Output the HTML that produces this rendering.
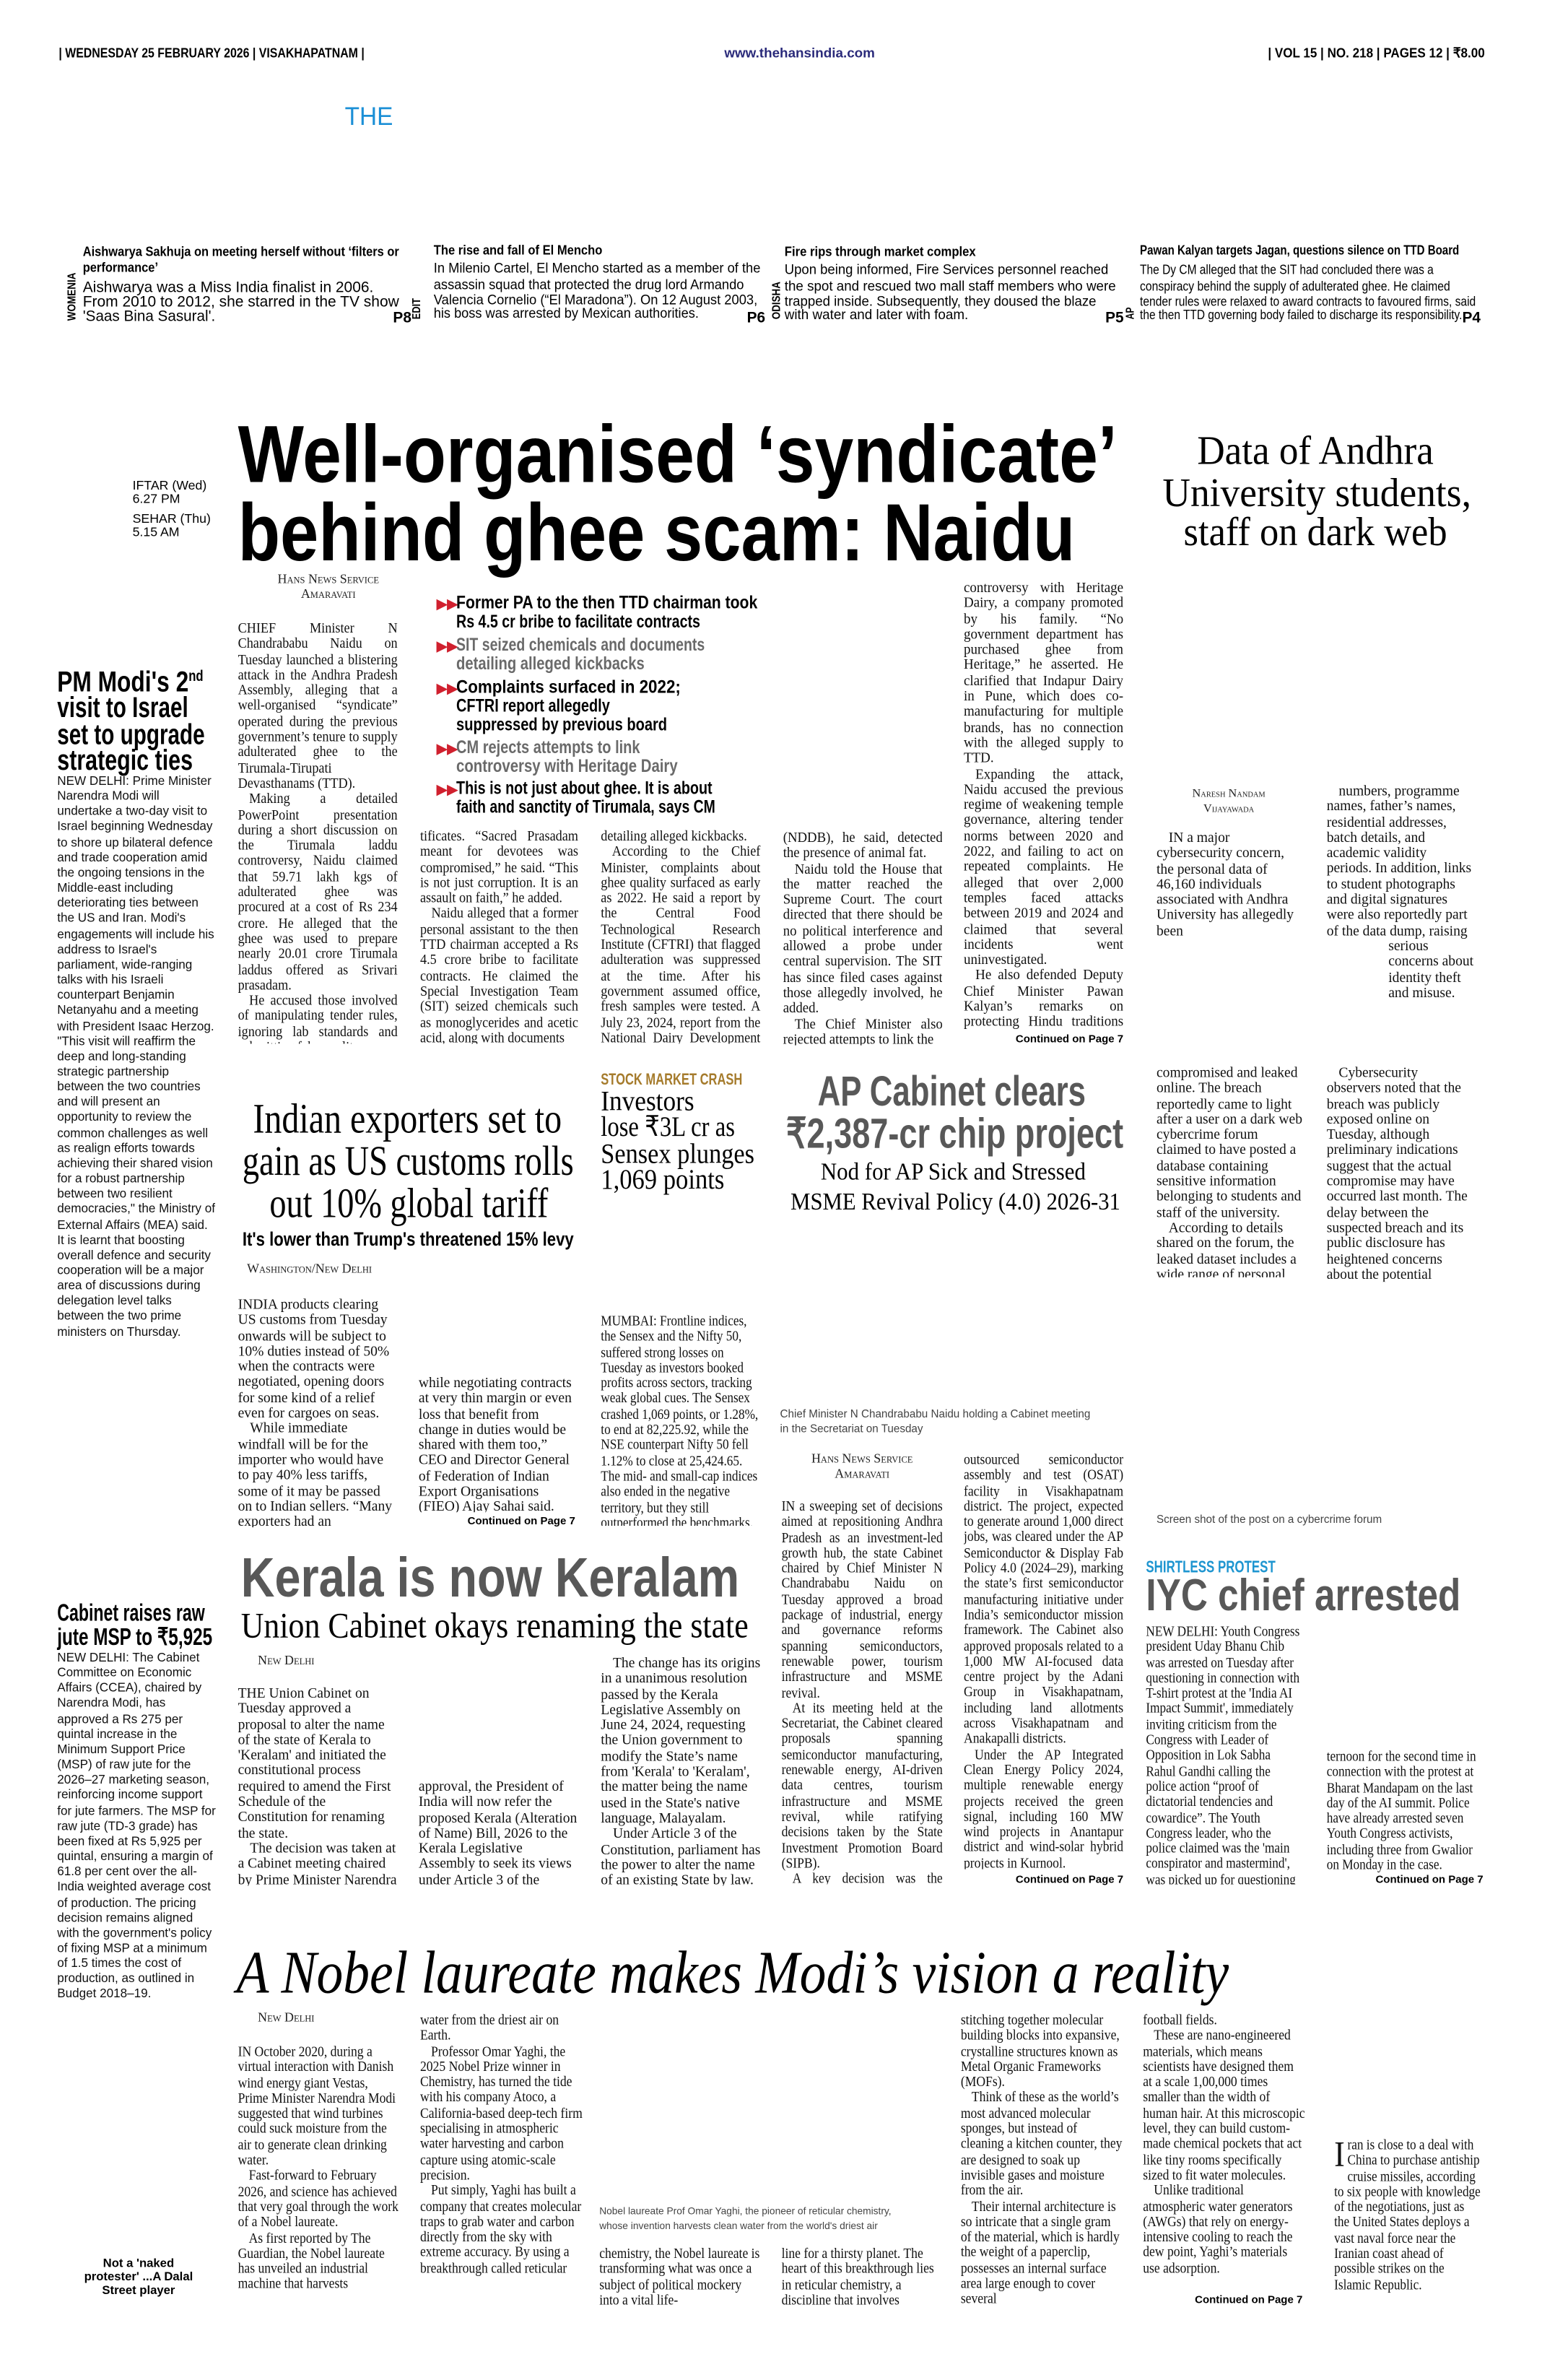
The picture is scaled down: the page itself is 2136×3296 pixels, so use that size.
<!DOCTYPE html>
<html><head><meta charset="utf-8">
<style>
html,body{margin:0;padding:0;background:#fff;width:2136px;height:3295px;overflow:hidden}
#w{position:absolute;left:0;top:0;width:1024px;height:1580px;transform:scale(2.0859375);transform-origin:0 0}
.c{position:absolute;font-family:"Liberation Serif",serif;font-size:9.4px;line-height:10.3px;color:#111;text-align:justify;overflow:hidden;transform-origin:0 0;transform:scaleX(var(--k,0.93));width:calc(var(--w) / var(--k,0.93))}
.c p{margin:0;text-indent:8px}
.c p:first-child{text-indent:0}
.r{text-align:left}
.s{font-family:"Liberation Sans",sans-serif;font-size:8.2px;line-height:10.15px;text-align:left;--k:1}
.by{position:absolute;font-family:"Liberation Serif",serif;font-variant:small-caps;font-size:8.6px;line-height:9.5px;text-align:center;color:#222}
.cont{font-family:"Liberation Sans",sans-serif;font-weight:bold;font-size:7.5px}
.cap{position:absolute;font-family:"Liberation Sans",sans-serif;font-size:7.3px;line-height:10px;color:#444}
svg{position:absolute;left:0;top:0}
</style></head><body><div id="w">

<svg width="1024" height="1580" viewBox="0 0 1024 1580" font-family="Liberation Sans, sans-serif">
<text x="39" y="38" font-size="9" font-weight="bold" textLength="203" lengthAdjust="spacingAndGlyphs">| WEDNESDAY 25 FEBRUARY 2026 | VISAKHAPATNAM |</text>
<text x="481" y="38" font-size="9" font-weight="bold" fill="#2a2a7a" textLength="100" lengthAdjust="spacingAndGlyphs">www.thehansindia.com</text>
<text x="842" y="38" font-size="9" font-weight="bold" textLength="144" lengthAdjust="spacingAndGlyphs">| VOL 15 | NO. 218 | PAGES 12 | ₹8.00</text>
<text x="229" y="83" font-size="17" fill="#1b8fd6" textLength="32" lengthAdjust="spacingAndGlyphs">THE</text>

<text x="55" y="170" font-size="9" font-weight="bold" textLength="210" lengthAdjust="spacingAndGlyphs">Aishwarya Sakhuja on meeting herself without ‘filters or</text>
<text x="55" y="180.5" font-size="9" font-weight="bold" textLength="50" lengthAdjust="spacingAndGlyphs">performance’</text>
<text x="55" y="194" font-size="10" textLength="193" lengthAdjust="spacingAndGlyphs">Aishwarya was a Miss India finalist in 2006.</text>
<text x="55" y="203.5" font-size="10" textLength="210" lengthAdjust="spacingAndGlyphs">From 2010 to 2012, she starred in the TV show</text>
<text x="55" y="213" font-size="10" textLength="88" lengthAdjust="spacingAndGlyphs">'Saas Bina Sasural'.</text>
<text x="261" y="214" font-size="10" font-weight="bold">P8</text>
<text transform="translate(50,213) rotate(-90)" font-size="7.5" font-weight="bold" textLength="32" lengthAdjust="spacingAndGlyphs">WOMENIA</text>

<text x="288" y="169" font-size="9" font-weight="bold" textLength="112" lengthAdjust="spacingAndGlyphs">The rise and fall of El Mencho</text>
<text x="288" y="181" font-size="9.5" textLength="217" lengthAdjust="spacingAndGlyphs">In Milenio Cartel, El Mencho started as a member of the</text>
<text x="288" y="192" font-size="9.5" textLength="206" lengthAdjust="spacingAndGlyphs">assassin squad that protected the drug lord Armando</text>
<text x="288" y="202" font-size="9.5" textLength="215" lengthAdjust="spacingAndGlyphs">Valencia Cornelio (“El Maradona”). On 12 August 2003,</text>
<text x="288" y="211" font-size="9.5" textLength="176" lengthAdjust="spacingAndGlyphs">his boss was arrested by Mexican authorities.</text>
<text x="496" y="214" font-size="10" font-weight="bold">P6</text>
<text transform="translate(279,212) rotate(-90)" font-size="7.5" font-weight="bold" textLength="14" lengthAdjust="spacingAndGlyphs">EDIT</text>

<text x="521" y="170" font-size="9" font-weight="bold" textLength="127" lengthAdjust="spacingAndGlyphs">Fire rips through market complex</text>
<text x="521" y="182" font-size="9.5" textLength="215" lengthAdjust="spacingAndGlyphs">Upon being informed, Fire Services personnel reached</text>
<text x="521" y="193" font-size="9.5" textLength="220" lengthAdjust="spacingAndGlyphs">the spot and rescued two mall staff members who were</text>
<text x="521" y="203" font-size="9.5" textLength="207" lengthAdjust="spacingAndGlyphs">trapped inside. Subsequently, they doused the blaze</text>
<text x="521" y="212" font-size="9.5" textLength="122" lengthAdjust="spacingAndGlyphs">with water and later with foam.</text>
<text x="734" y="214" font-size="10" font-weight="bold">P5</text>
<text transform="translate(518,212) rotate(-90)" font-size="7.5" font-weight="bold" textLength="25" lengthAdjust="spacingAndGlyphs">ODISHA</text>

<text x="757" y="169" font-size="9" font-weight="bold" textLength="212" lengthAdjust="spacingAndGlyphs">Pawan Kalyan targets Jagan, questions silence on TTD Board</text>
<text x="757" y="182" font-size="9" textLength="195" lengthAdjust="spacingAndGlyphs">The Dy CM alleged that the SIT had concluded there was a</text>
<text x="757" y="193" font-size="9" textLength="206" lengthAdjust="spacingAndGlyphs">conspiracy behind the supply of adulterated ghee. He claimed</text>
<text x="757" y="203" font-size="9" textLength="223" lengthAdjust="spacingAndGlyphs">tender rules were relaxed to award contracts to favoured firms, said</text>
<text x="757" y="212" font-size="9" textLength="214" lengthAdjust="spacingAndGlyphs">the then TTD governing body failed to discharge its responsibility.</text>
<text x="971" y="214" font-size="10" font-weight="bold">P4</text>
<text transform="translate(753,212) rotate(-90)" font-size="7.5" font-weight="bold" textLength="8" lengthAdjust="spacingAndGlyphs">AP</text>

<text x="88" y="325" font-size="8.5">IFTAR (Wed)</text>
<text x="88" y="334" font-size="8.5">6.27 PM</text>
<text x="88" y="347" font-size="8.5">SEHAR (Thu)</text>
<text x="88" y="356" font-size="8.5">5.15 AM</text>

<text x="158" y="320" font-size="54" font-weight="bold" textLength="584" lengthAdjust="spacingAndGlyphs">Well-organised ‘syndicate’</text>
<text x="158" y="372" font-size="54" font-weight="bold" textLength="556" lengthAdjust="spacingAndGlyphs">behind ghee scam: Naidu</text>

<g font-family="Liberation Serif, serif" font-size="27">
<text x="795" y="308" textLength="157" lengthAdjust="spacingAndGlyphs">Data of Andhra</text>
<text x="772" y="336" textLength="205" lengthAdjust="spacingAndGlyphs">University students,</text>
<text x="786" y="362" textLength="175" lengthAdjust="spacingAndGlyphs">staff on dark web</text>
</g>

<g font-size="19" font-weight="bold">
<text x="38" y="459" textLength="97" lengthAdjust="spacingAndGlyphs">PM Modi's 2<tspan font-size="10" dy="-7">nd</tspan></text>
<text x="38" y="476" textLength="87" lengthAdjust="spacingAndGlyphs">visit to Israel</text>
<text x="38" y="494" textLength="98" lengthAdjust="spacingAndGlyphs">set to upgrade</text>
<text x="38" y="511" textLength="90" lengthAdjust="spacingAndGlyphs">strategic ties</text>
</g>

<g font-size="12" font-weight="bold">
<text x="290" y="404" fill="#d0202e" font-size="9">▶▶</text>
<text x="303" y="404" textLength="200" lengthAdjust="spacingAndGlyphs">Former PA to the then TTD chairman took</text>
<text x="303" y="416.5" textLength="162" lengthAdjust="spacingAndGlyphs">Rs 4.5 cr bribe to facilitate contracts</text>
<text x="290" y="432" fill="#d0202e" font-size="9">▶▶</text>
<text x="303" y="432" fill="#6a6a6a" textLength="165" lengthAdjust="spacingAndGlyphs">SIT seized chemicals and documents</text>
<text x="303" y="444.5" fill="#6a6a6a" textLength="125" lengthAdjust="spacingAndGlyphs">detailing alleged kickbacks</text>
<text x="290" y="460" fill="#d0202e" font-size="9">▶▶</text>
<text x="303" y="460" textLength="149" lengthAdjust="spacingAndGlyphs">Complaints surfaced in 2022;</text>
<text x="303" y="472.5" textLength="102" lengthAdjust="spacingAndGlyphs">CFTRI report allegedly</text>
<text x="303" y="485" textLength="140" lengthAdjust="spacingAndGlyphs">suppressed by previous board</text>
<text x="290" y="500" fill="#d0202e" font-size="9">▶▶</text>
<text x="303" y="500" fill="#6a6a6a" textLength="122" lengthAdjust="spacingAndGlyphs">CM rejects attempts to link</text>
<text x="303" y="512.5" fill="#6a6a6a" textLength="147" lengthAdjust="spacingAndGlyphs">controversy with Heritage Dairy</text>
<text x="290" y="527" fill="#d0202e" font-size="9">▶▶</text>
<text x="303" y="527" textLength="170" lengthAdjust="spacingAndGlyphs">This is not just about ghee. It is about</text>
<text x="303" y="539.5" textLength="172" lengthAdjust="spacingAndGlyphs">faith and sanctity of Tirumala, says CM</text>
</g>

<g font-family="Liberation Serif, serif" font-size="28">
<text x="168" y="752" textLength="205" lengthAdjust="spacingAndGlyphs">Indian exporters set to</text>
<text x="161" y="780" textLength="220" lengthAdjust="spacingAndGlyphs">gain as US customs rolls</text>
<text x="179" y="808" textLength="185" lengthAdjust="spacingAndGlyphs">out 10% global tariff</text>
</g>
<text x="161" y="827" font-size="13" font-weight="bold" textLength="220" lengthAdjust="spacingAndGlyphs">It's lower than Trump's threatened 15% levy</text>

<text x="399" y="720" font-size="10.5" font-weight="bold" fill="#a57b2c" textLength="94" lengthAdjust="spacingAndGlyphs">STOCK MARKET CRASH</text>
<g font-family="Liberation Serif, serif" font-size="19">
<text x="399" y="737" textLength="62" lengthAdjust="spacingAndGlyphs">Investors</text>
<text x="399" y="754" textLength="89" lengthAdjust="spacingAndGlyphs">lose ₹3L cr as</text>
<text x="399" y="772" textLength="102" lengthAdjust="spacingAndGlyphs">Sensex plunges</text>
<text x="399" y="789" textLength="82" lengthAdjust="spacingAndGlyphs">1,069 points</text>
</g>

<text x="543" y="734" font-size="28" font-weight="bold" fill="#585858" textLength="178" lengthAdjust="spacingAndGlyphs">AP Cabinet clears</text>
<text x="522" y="762" font-size="28" font-weight="bold" fill="#585858" textLength="224" lengthAdjust="spacingAndGlyphs">₹2,387-cr chip project</text>
<text x="545" y="783" font-family="Liberation Serif, serif" font-size="16" textLength="176" lengthAdjust="spacingAndGlyphs">Nod for AP Sick and Stressed</text>
<text x="525" y="803" font-family="Liberation Serif, serif" font-size="16" textLength="219" lengthAdjust="spacingAndGlyphs">MSME Revival Policy (4.0) 2026-31</text>

<text x="761" y="1044" font-size="11" font-weight="bold" fill="#1e95d0" textLength="86" lengthAdjust="spacingAndGlyphs">SHIRTLESS PROTEST</text>
<text x="761" y="1069" font-size="30" font-weight="bold" fill="#585858" textLength="209" lengthAdjust="spacingAndGlyphs">IYC chief arrested</text>

<text x="160" y="1060" font-size="37" font-weight="bold" fill="#585858" textLength="331" lengthAdjust="spacingAndGlyphs">Kerala is now Keralam</text>
<text x="160" y="1087" font-family="Liberation Serif, serif" font-size="24" textLength="337" lengthAdjust="spacingAndGlyphs">Union Cabinet okays renaming the state</text>

<text x="38" y="1076" font-size="16" font-weight="bold" textLength="98" lengthAdjust="spacingAndGlyphs">Cabinet raises raw</text>
<text x="38" y="1092" font-size="16" font-weight="bold" textLength="103" lengthAdjust="spacingAndGlyphs">jute MSP to ₹5,925</text>

<text x="157" y="1323" font-family="Liberation Serif, serif" font-style="italic" font-size="40" textLength="659" lengthAdjust="spacingAndGlyphs">A Nobel laureate makes Modi’s vision a reality</text>

<g font-size="7.2" font-weight="bold" text-anchor="end">
<text x="746" y="692">Continued on Page 7</text>
<text x="382" y="1012">Continued on Page 7</text>
<text x="746" y="1250">Continued on Page 7</text>
<text x="985" y="1250">Continued on Page 7</text>
<text x="865" y="1529">Continued on Page 7</text>
</g>

<g font-size="8" font-weight="bold" text-anchor="middle">
<text x="92" y="1505">Not a 'naked</text>
<text x="92" y="1514">protester' ...A Dalal</text>
<text x="92" y="1523">Street player</text>
</g>
</svg>

<div class="c s" style="left:38px;top:514px;--w:106px;height:384px">NEW DELHI: Prime Minister Narendra Modi will undertake a two-day visit to Israel beginning Wednesday to shore up bilateral defence and trade cooperation amid the ongoing tensions in the Middle-east including deteriorating ties between the US and Iran. Modi's engagements will include his address to Israel's parliament, wide-ranging talks with his Israeli counterpart Benjamin Netanyahu and a meeting with President Isaac Herzog. "This visit will reaffirm the deep and long-standing strategic partnership between the two countries and will present an opportunity to review the common challenges as well as realign efforts towards achieving their shared vision for a robust partnership between two resilient democracies," the Ministry of External Affairs (MEA) said. It is learnt that boosting overall defence and security cooperation will be a major area of discussions during delegation level talks between the two prime ministers on Thursday.</div>

<div class="by" style="left:158px;top:380px;width:120px">Hans News Service<br>Amaravati</div>
<div class="c" style="left:158px;top:413px;--w:106px;height:280px"><p>CHIEF Minister N Chandrababu Naidu on Tuesday launched a blistering attack in the Andhra Pradesh Assembly, alleging that a well-organised “syndicate” operated during the previous government’s tenure to supply adulterated ghee to the Tirumala-Tirupati Devasthanams (TTD).</p><p>Making a detailed PowerPoint presentation during a short discussion on the Tirumala laddu controversy, Naidu claimed that 59.71 lakh kgs of adulterated ghee was procured at a cost of Rs 234 crore. He alleged that the ghee was used to prepare nearly 20.01 crore Tirumala laddus offered as Srivari prasadam.</p><p>He accused those involved of manipulating tender rules, ignoring lab standards and submitting fake quality cer-</p></div>
<div class="c" style="left:279px;top:551px;--w:105px;height:142px"><p>tificates. “Sacred Prasadam meant for devotees was compromised,” he said. “This is not just corruption. It is an assault on faith,” he added.</p><p>Naidu alleged that a former personal assistant to the then TTD chairman accepted a Rs 4.5 crore bribe to facilitate contracts. He claimed the Special Investigation Team (SIT) seized chemicals such as monoglycerides and acetic acid, along with documents</p></div>
<div class="c" style="left:399px;top:551px;--w:106px;height:142px"><p>detailing alleged kickbacks.</p><p>According to the Chief Minister, complaints about ghee quality surfaced as early as 2022. He said a report by the Central Food Technological Research Institute (CFTRI) that flagged adulteration was suppressed at the time. After his government assumed office, fresh samples were tested. A July 23, 2024, report from the National Dairy Development Board</p></div>
<div class="c" style="left:520px;top:552px;--w:106px;height:142px;--k:.96"><p>(NDDB), he said, detected the presence of animal fat.</p><p>Naidu told the House that the matter reached the Supreme Court. The court directed that there should be no political interference and allowed a probe under central supervision. The SIT has since filed cases against those allegedly involved, he added.</p><p>The Chief Minister also rejected attempts to link the</p></div>
<div class="c" style="left:640px;top:386px;--w:106px;height:298px;--k:.97"><p>controversy with Heritage Dairy, a company promoted by his family. “No government department has purchased ghee from Heritage,” he asserted. He clarified that Indapur Dairy in Pune, which does co-manufacturing for multiple brands, has no connection with the alleged supply to TTD.</p><p>Expanding the attack, Naidu accused the previous regime of weakening temple governance, altering tender norms between 2020 and 2022, and failing to act on repeated complaints. He alleged that over 2,000 temples faced attacks between 2019 and 2024 and claimed that several incidents went uninvestigated.</p><p>He also defended Deputy Chief Minister Pawan Kalyan’s remarks on protecting Hindu traditions and said places of worship must respect established customs.</p></div>

<div class="by" style="left:760px;top:522px;width:112px;font-size:7.8px">Naresh Nandam<br>Vijayawada</div>
<div class="c r" style="left:768px;top:552px;--w:97px;height:296px;--k:1"><div style="float:right;width:0;height:72px"></div><div style="float:right;clear:right;width:49px;height:84px"></div><p>IN a major cybersecurity concern, the personal data of 46,160 individuals associated with Andhra University has allegedly been compromised and leaked online. The breach reportedly came to light after a user on a dark web cybercrime forum claimed to have posted a database containing sensitive information belonging to students and staff of the university.</p><p>According to details shared on the forum, the leaked dataset includes a wide range of personal and academic information.</p><p>The exposed records allegedly contain full names, dates of birth, phone numbers, email addresses, enrollment</p></div>
<div class="c r" style="left:881px;top:521px;--w:98px;height:330px;--k:1"><div style="float:left;width:0;height:103px"></div><div style="float:left;clear:left;width:41px;height:84px"></div><p>numbers, programme names, father’s names, residential addresses, batch details, and academic validity periods. In addition, links to student photographs and digital signatures were also reportedly part of the data dump, raising serious concerns about identity theft and misuse.</p><p>Cybersecurity observers noted that the breach was publicly exposed online on Tuesday, although preliminary indications suggest that the actual compromise may have occurred last month. The delay between the suspected breach and its public disclosure has heightened concerns about the potential misuse of the data during the intervening period. <span class="cont">Continued on Page 7</span></p></div>

<div class="by" style="left:164px;top:838px;text-align:left">Washington/New Delhi</div>
<div class="c r" style="left:158px;top:862px;--w:106px;height:152px;--k:1"><p>INDIA products clearing US customs from Tuesday onwards will be subject to 10% duties instead of 50% when the contracts were negotiated, opening doors for some kind of a relief even for cargoes on seas.</p><p>While immediate windfall will be for the importer who would have to pay 40% less tariffs, some of it may be passed on to Indian sellers. “Many exporters had an understanding with the buyers</p></div>
<div class="c r" style="left:278px;top:914px;--w:106px;height:90px;--k:1"><p>while negotiating contracts at very thin margin or even loss that benefit from change in duties would be shared with them too,” CEO and Director General of Federation of Indian Export Organisations (FIEO) Ajay Sahai said.</p></div>

<div class="c r" style="left:399px;top:873px;--w:108px;height:140px;--k:.88"><p>MUMBAI: Frontline indices, the Sensex and the Nifty 50, suffered strong losses on Tuesday as investors booked profits across sectors, tracking weak global cues. The Sensex crashed 1,069 points, or 1.28%, to end at 82,225.92, while the NSE counterpart Nifty 50 fell 1.12% to close at 25,424.65. The mid- and small-cap indices also ended in the negative territory, but they still outperformed the benchmarks.</p></div>

<div class="cap" style="left:518px;top:934px;width:240px">Chief Minister N Chandrababu Naidu holding a Cabinet meeting<br>in the Secretariat on Tuesday</div>
<div class="by" style="left:519px;top:964px;width:107px">Hans News Service<br>Amaravati</div>
<div class="c" style="left:519px;top:996px;--w:107px;height:255px;--k:.9"><p>IN a sweeping set of decisions aimed at repositioning Andhra Pradesh as an investment-led growth hub, the state Cabinet chaired by Chief Minister N Chandrababu Naidu on Tuesday approved a broad package of industrial, energy and governance reforms spanning semiconductors, renewable power, tourism infrastructure and MSME revival.</p><p>At its meeting held at the Secretariat, the Cabinet cleared proposals spanning semiconductor manufacturing, renewable energy, AI-driven data centres, tourism infrastructure and MSME revival, while ratifying decisions taken by the State Investment Promotion Board (SIPB).</p><p>A key decision was the approval of a Rs 2,387.81-crore</p></div>
<div class="c" style="left:640px;top:965px;--w:106px;height:276px;--k:.9"><p>outsourced semiconductor assembly and test (OSAT) facility in Visakhapatnam district. The project, expected to generate around 1,000 direct jobs, was cleared under the AP Semiconductor &amp; Display Fab Policy 4.0 (2024–29), marking the state’s first semiconductor manufacturing initiative under India’s semiconductor mission framework. The Cabinet also approved proposals related to a 1,000 MW AI-focused data centre project by the Adani Group in Visakhapatnam, including land allotments across Visakhapatnam and Anakapalli districts.</p><p>Under the AP Integrated Clean Energy Policy 2024, multiple renewable energy projects received the green signal, including 160 MW wind projects in Anantapur district and wind-solar hybrid projects in Kurnool.</p></div>

<div class="cap" style="left:768px;top:1004px;width:220px">Screen shot of the post on a cybercrime forum</div>
<div class="c r" style="left:761px;top:1079px;--w:104px;height:172px;--k:.88"><p>NEW DELHI: Youth Congress president Uday Bhanu Chib was arrested on Tuesday after questioning in connection with T-shirt protest at the 'India AI Impact Summit', immediately inviting criticism from the Congress with Leader of Opposition in Lok Sabha Rahul Gandhi calling the police action “proof of dictatorial tendencies and cowardice”. The Youth Congress leader, who the police claimed was the 'main conspirator and mastermind', was picked up for questioning on Monday af-</p></div>
<div class="c r" style="left:881px;top:1162px;--w:105px;height:82px;--k:.88"><p>ternoon for the second time in connection with the protest at Bharat Mandapam on the last day of the AI summit. Police have already arrested seven Youth Congress activists, including three from Gwalior on Monday in the case.</p></div>

<div class="by" style="left:170px;top:1098px;width:40px">New Delhi</div>
<div class="c r" style="left:158px;top:1120px;--w:106px;height:132px;--k:1"><p>THE Union Cabinet on Tuesday approved a proposal to alter the name of the state of Kerala to 'Keralam' and initiated the constitutional process required to amend the First Schedule of the Constitution for renaming the state.</p><p>The decision was taken at a Cabinet meeting chaired by Prime Minister Narendra Modi. Following the</p></div>
<div class="c r" style="left:278px;top:1182px;--w:106px;height:70px;--k:1"><p>approval, the President of India will now refer the proposed Kerala (Alteration of Name) Bill, 2026 to the Kerala Legislative Assembly to seek its views under Article 3 of the Constitution.</p></div>
<div class="c r" style="left:399px;top:1100px;--w:106px;height:152px;--k:1"><p style="text-indent:8px">The change has its origins in a unanimous resolution passed by the Kerala Legislative Assembly on June 24, 2024, requesting the Union government to modify the State’s name from 'Kerala' to 'Keralam', the matter being the name used in the State's native language, Malayalam.</p><p>Under Article 3 of the Constitution, parliament has the power to alter the name of an existing State by law. <span class="cont">Continued on Page 7</span></p></div>

<div class="c s" style="left:38px;top:1096px;--w:106px;height:244px">NEW DELHI: The Cabinet Committee on Economic Affairs (CCEA), chaired by Narendra Modi, has approved a Rs 275 per quintal increase in the Minimum Support Price (MSP) of raw jute for the 2026–27 marketing season, reinforcing income support for jute farmers. The MSP for raw jute (TD-3 grade) has been fixed at Rs 5,925 per quintal, ensuring a margin of 61.8 per cent over the all-India weighted average cost of production. The pricing decision remains aligned with the government's policy of fixing MSP at a minimum of 1.5 times the cost of production, as outlined in Budget 2018–19.</div>

<div class="by" style="left:170px;top:1335px;width:40px">New Delhi</div>
<div class="c r" style="left:158px;top:1358px;--w:108px;height:172px;--k:.9"><p>IN October 2020, during a virtual interaction with Danish wind energy giant Vestas, Prime Minister Narendra Modi suggested that wind turbines could suck moisture from the air to generate clean drinking water.</p><p>Fast-forward to February 2026, and science has achieved that very goal through the work of a Nobel laureate.</p><p>As first reported by The Guardian, the Nobel laureate has unveiled an industrial machine that harvests</p></div>
<div class="c r" style="left:279px;top:1337px;--w:108px;height:193px;--k:.9"><p>water from the driest air on Earth.</p><p>Professor Omar Yaghi, the 2025 Nobel Prize winner in Chemistry, has turned the tide with his company Atoco, a California-based deep-tech firm specialising in atmospheric water harvesting and carbon capture using atomic-scale precision.</p><p>Put simply, Yaghi has built a company that creates molecular traps to grab water and carbon directly from the sky with extreme accuracy. By using a breakthrough called reticular</p></div>
<div class="cap" style="left:398px;top:1464px;width:240px;font-size:6.6px;line-height:9.5px">Nobel laureate Prof Omar Yaghi, the pioneer of reticular chemistry,<br>whose invention harvests clean water from the world's driest air</div>
<div class="c r" style="left:398px;top:1492px;--w:108px;height:38px;--k:.9"><p>chemistry, the Nobel laureate is transforming what was once a subject of political mockery into a vital life-</p></div>
<div class="c r" style="left:519px;top:1492px;--w:108px;height:38px;--k:.9"><p>line for a thirsty planet. The heart of this breakthrough lies in reticular chemistry, a discipline that involves</p></div>
<div class="c r" style="left:638px;top:1337px;--w:108px;height:193px;--k:.9"><p>stitching together molecular building blocks into expansive, crystalline structures known as Metal Organic Frameworks (MOFs).</p><p>Think of these as the world’s most advanced molecular sponges, but instead of cleaning a kitchen counter, they are designed to soak up invisible gases and moisture from the air.</p><p>Their internal architecture is so intricate that a single gram of the material, which is hardly the weight of a paperclip, possesses an internal surface area large enough to cover several</p></div>
<div class="c r" style="left:759px;top:1337px;--w:108px;height:182px;--k:.9"><p>football fields.</p><p>These are nano-engineered materials, which means scientists have designed them at a scale 1,00,000 times smaller than the width of human hair. At this microscopic level, they can build custom-made chemical pockets that act like tiny rooms specifically sized to fit water molecules.</p><p>Unlike traditional atmospheric water generators (AWGs) that rely on energy-intensive cooling to reach the dew point, Yaghi’s materials use adsorption.</p></div>
<div class="c r" style="left:886px;top:1420px;--w:98px;height:110px;--k:.88"><p><span style="float:left;font-size:24px;line-height:20px;margin:1px 2px 0 0">I</span>ran is close to a deal with China to purchase antiship cruise missiles, according to six people with knowledge of the negotiations, just as the United States deploys a vast naval force near the Iranian coast ahead of possible strikes on the Islamic Republic.</p></div>

</div></body></html>
